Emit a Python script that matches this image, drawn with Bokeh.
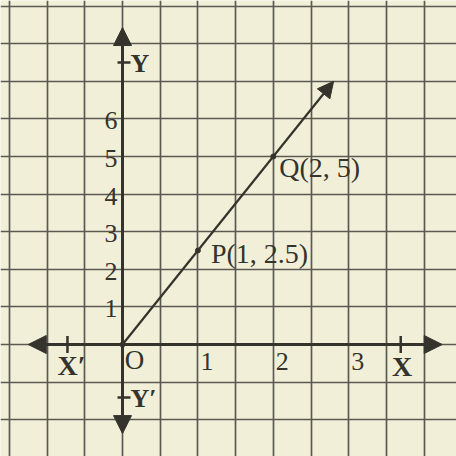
from bokeh.plotting import figure
from bokeh.models import Grid, FixedTicker, Arrow, NormalHead, Range1d
from bokeh.core.properties import value
from bokeh.embed import file_html
from bokeh.resources import INLINE

# --- data ---
pt_x = [0, 1, 2]
pt_y = [0, 2.5, 5]
pt_labels = ["", "P(1, 2.5)", "Q(2, 5)"]
line_end = (2.8, 7.0)
xtick_vals = [1, 2, 3]
xtick_labels = ["1", "2", "3"]
ytick_vals = [1, 2, 3, 4, 5, 6]
ytick_labels = ["1", "2", "3", "4", "5", "6"]
xgrid_vals = [-1.5 + 0.5 * i for i in range(14)]
ygrid_vals = list(range(-3, 10))

BG = "#f2efd9"
GRID = "#5b5a52"
INK = "#34332c"
SERIF = "Liberation Serif"

W = H = 456
px_per_x = 75.4
px_per_y = 37.6
ox, oy = 122, 344  # origin in figure pixels

p = figure(width=W, height=H, output_backend="svg", toolbar_location=None,
           x_axis_type=None, y_axis_type=None, min_border=0,
           x_range=Range1d(-ox / px_per_x, (W - ox) / px_per_x),
           y_range=Range1d(-(H - oy) / px_per_y, oy / px_per_y))
p.background_fill_color = BG
p.border_fill_color = BG
p.outline_line_color = None

p.add_layout(Grid(dimension=0, ticker=FixedTicker(ticks=xgrid_vals),
                  grid_line_color=GRID, grid_line_width=1.7))
p.add_layout(Grid(dimension=1, ticker=FixedTicker(ticks=ygrid_vals),
                  grid_line_color=GRID, grid_line_width=1.7))

# axes with arrows
def head():
    return NormalHead(size=18, fill_color=INK, line_color=INK, line_width=1)

p.add_layout(Arrow(start=head(), end=head(), x_start=-1.25, y_start=0, x_end=4.24, y_end=0,
                   line_color=INK, line_width=3))
p.add_layout(Arrow(start=head(), end=head(), x_start=0, y_start=-2.37, x_end=0, y_end=8.43,
                   line_color=INK, line_width=3))

# axis end ticks
p.scatter(x=[-0.73, 3.69], y=[0, 0], marker="dash", angle=1.5708, size=17,
          line_color=INK, line_width=2.5)
p.scatter(x=[0.02, 0.02], y=[7.5, -1.41], marker="dash", size=13,
          line_color=INK, line_width=2.5)

# data line
p.add_layout(Arrow(end=NormalHead(size=16, fill_color=INK, line_color=INK, line_width=1),
                   x_start=0, y_start=0, x_end=line_end[0], y_end=line_end[1],
                   line_color=INK, line_width=2.2))
p.scatter(x=pt_x, y=pt_y, size=5, fill_color=INK, line_color=INK)

# tick labels
p.text(x=[0] * len(ytick_vals), y=ytick_vals, text=ytick_labels, x_offset=-5, y_offset=2,
       text_align="right", text_baseline="middle", text_font=value(SERIF),
       text_font_size="26px", text_color=INK)
p.text(x=xtick_vals, y=[0] * len(xtick_vals), text=xtick_labels, x_offset=9, y_offset=17,
       text_align="center", text_baseline="middle", text_font=value(SERIF),
       text_font_size="26px", text_color=INK)

# point labels
p.text(x=pt_x[1:], y=pt_y[1:], text=pt_labels[1:], x_offset=[13, 6], y_offset=[3, 11],
       text_align="left", text_baseline="middle", text_font=value(SERIF),
       text_font_size="28px", text_color=INK)

# axis names
p.text(x=[0], y=[0], text=["O"], x_offset=12, y_offset=15, text_align="center",
       text_baseline="middle", text_font=value(SERIF), text_font_size="27px", text_color=INK)
p.text(x=[3.71, -0.862], y=[0, 0], text=["X", "X′"], x_offset=[0, 0], y_offset=[22, 21],
       text_align=["center", "left"], text_baseline="middle", text_font=value(SERIF),
       text_font_size="28px", text_font_style="bold", text_color=INK)
p.text(x=[0, 0], y=[7.5, -1.41], text=["Y", "Y′"], x_offset=8, y_offset=1,
       text_align="left", text_baseline="middle", text_font=value(SERIF),
       text_font_size="26px", text_font_style="bold", text_color=INK)

open("out.html", "w").write(file_html(p, INLINE))
